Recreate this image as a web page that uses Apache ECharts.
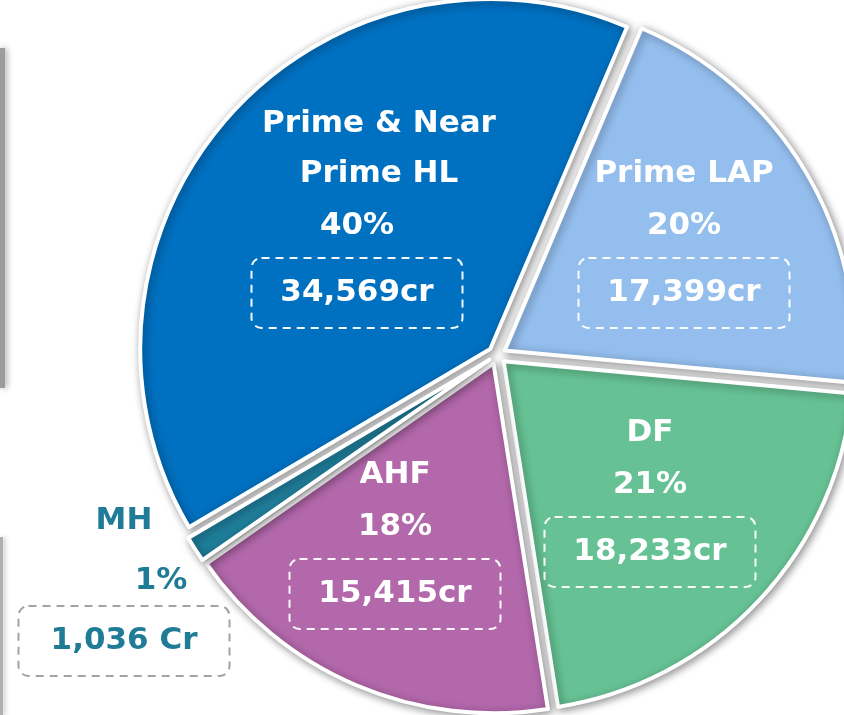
<!DOCTYPE html>
<html>
<head>
<meta charset="utf-8">
<title>Portfolio mix</title>
<script src="https://cdn.jsdelivr.net/npm/echarts@6/dist/echarts.min.js"></script>
<style>
    html, body { margin: 0; padding: 0; background: #ffffff; }
    #chart { width: 844px; height: 715px; }
</style>
</head>
<body>
<div id="chart"></div>
<script>
// data
var categories = ['Prime & Near\nPrime HL', 'Prime LAP', 'DF', 'AHF', 'MH'];
var values = [34569, 17399, 18233, 15415, 1036];
var units = ['cr', 'cr', 'cr', 'cr', ' Cr'];
var colors = ['#0070C0', '#94BEEE', '#66C294', '#B368AB', '#1F7D99'];

// label block anchor (bottom centre of each dashed box)
var labelPos = [[357, 328], [684, 328], [650, 587], [395, 629], [124, 676]];

var teal = '#1F7B96';
var font = 'DejaVu Sans';

function txt(extra) {
    var s = { fontFamily: font, fontSize: 31, fontWeight: 'bold', fill: '#ffffff', lineHeight: 50 };
    for (var k in extra) s[k] = extra[k];
    return s;
}

var boxBase = {
    width: 211, height: 70, lineHeight: 70, align: 'center',
    borderColor: 'rgba(255,255,255,0.95)', borderWidth: 2, borderDash: [8, 6], borderRadius: 10
};

var rich = {
    name: txt({}),
    namea: txt({ padding: [0, 0, 0, 44] }),
    namem: txt({ fill: teal }),
    pct: txt({ lineHeight: 54 }),
    pcta: txt({ lineHeight: 54 }),
    pctm: txt({ fill: teal, padding: [0, 0, 0, 74] }),
    gap: { fontSize: 4, lineHeight: 5 },
    gapm: { fontSize: 4, lineHeight: 10 },
    box: txt(boxBase),
    boxa: txt(boxBase),
    boxm: txt(Object.assign({}, boxBase, { fill: teal, borderColor: '#a3a3a3' }))
};

var total = 0;
for (var i = 0; i < values.length; i++) total += values[i];

var pieData = [];
var labels = [];
for (var i = 0; i < categories.length; i++) {
    pieData.push({ name: categories[i], value: values[i], selected: true, itemStyle: { color: colors[i] } });

    // slice labels: name, share, amount in a dashed box
    var k = i === 0 ? 'a' : (i === 4 ? 'm' : '');
    var lines = categories[i].split('\n').map(function (s) { return '{name' + k + '|' + s + '}'; });
    if (k === 'm') lines.push('{gapm| }');
    lines.push('{pct' + k + '|' + Math.round(values[i] / total * 100) + '%}');
    if (k !== 'm') lines.push('{gap| }');
    lines.push('{box' + k + '|' + values[i].toLocaleString('en-US') + units[i] + '}');
    labels.push({
        type: 'text',
        x: labelPos[i][0],
        y: labelPos[i][1],
        z: 100,
        style: {
            text: lines.join('\n'),
            rich: rich,
            align: 'center',
            verticalAlign: 'bottom',
            fontFamily: font,
            fontSize: 31,
            fontWeight: 'bold',
            fill: '#ffffff'
        }
    });
}

var chart = echarts.init(document.getElementById('chart'));

var option = {
    backgroundColor: '#ffffff',
    animation: false,
    graphic: [
        { type: 'rect', shape: { x: 0, y: 48, width: 5, height: 340 },
          style: { fill: '#9c9c9c', shadowBlur: 6, shadowColor: 'rgba(0,0,0,0.35)', shadowOffsetX: 2 } },
        { type: 'rect', shape: { x: 0, y: 537, width: 3, height: 180 },
          style: { fill: '#b0b0b0', shadowBlur: 5, shadowColor: 'rgba(0,0,0,0.25)', shadowOffsetX: 2 } }
    ].concat(labels),
    series: [
        {
            type: 'pie',
            center: [497, 355],
            radius: [0, 350],
            startAngle: 210.6,
            clockwise: true,
            selectedMode: 'multiple',
            selectedOffset: 9,
            avoidLabelOverlap: false,
            itemStyle: {
                borderColor: '#ffffff',
                borderWidth: 4,
                shadowBlur: 9,
                shadowColor: 'rgba(0,0,0,0.4)',
                shadowOffsetX: 2,
                shadowOffsetY: 2
            },
            label: { show: false },
            labelLine: { show: false },
            emphasis: { disabled: true },
            select: { itemStyle: { borderColor: '#ffffff', borderWidth: 4 } },
            data: pieData
        }
    ]
};

chart.setOption(option);
</script>
</body>
</html>
